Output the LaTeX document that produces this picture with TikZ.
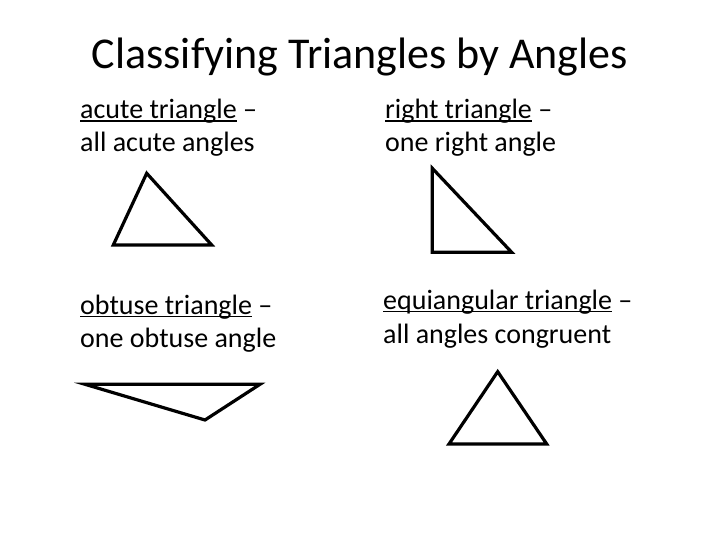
\documentclass[tikz,border=0pt]{standalone}
\usepackage{fontspec}
\setmainfont{Carlito}
\usepackage{tikz}

% underlined word, line just under the baseline
\newcommand{\undl}[1]{\setbox0\hbox{#1}\rlap{\rule[-3pt]{\wd0}{1.5pt}}\box0\relax}

\begin{document}
\begin{tikzpicture}[x=1pt,y=-1pt,
  txt/.style={anchor=base west,inner sep=0pt,font=\fontsize{28}{34}\selectfont},
  tri/.style={line width=3.2pt,line join=miter}]
\useasboundingbox (0,0) rectangle (720,540);
\node[anchor=base,inner sep=0pt,font=\fontsize{44}{53}\selectfont] at (360,69)(title){Classifying Triangles by Angles};

\node[txt] at (80,119)(acute1){\undl{acute triangle} --};
\node[txt] at (80,152)(acute2){all acute angles};
\node[txt] at (385,119)(right1){\undl{right triangle} --};
\node[txt] at (385,152)(right2){one right angle};
\node[txt] at (80,314)(obtuse1){\undl{obtuse triangle} --};
\node[txt] at (80,347)(obtuse2){one obtuse angle};
\node[txt] at (383,309)(equi1){\undl{equiangular triangle} --};
\node[txt] at (383,343)(equi2){all angles congruent};

\draw [tri] (146.7,173.3) -- (113.3,245) -- (211.7,245) -- cycle;
\draw [tri] (432.3,168.3) -- (432.3,252.3) -- (511.7,252.3) -- cycle;
\draw [tri] (85,384.3) -- (260,384.3) -- (205,420) -- cycle;
\draw [tri] (497.7,371.7) -- (449,444) -- (546.7,444) -- cycle;
\end{tikzpicture}
\end{document}
